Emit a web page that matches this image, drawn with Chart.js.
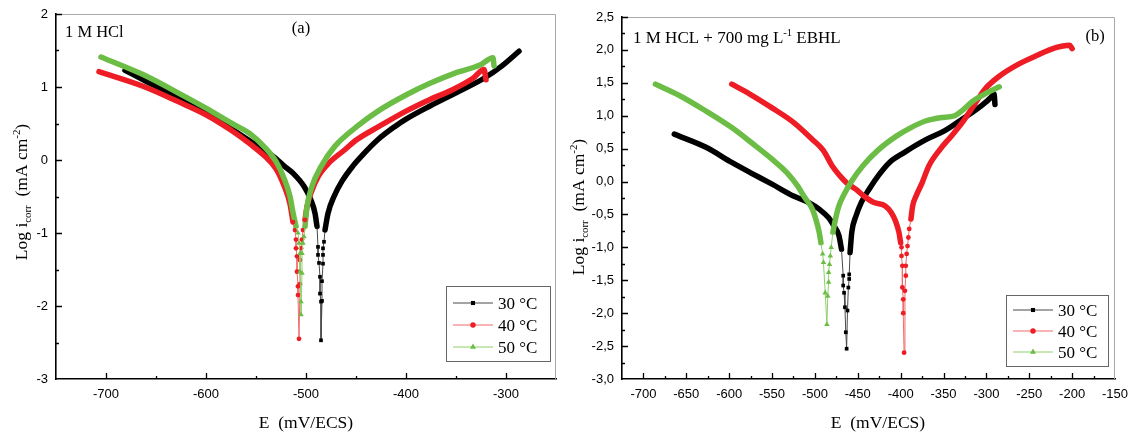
<!DOCTYPE html>
<html><head><meta charset="utf-8">
<script src="https://cdn.jsdelivr.net/npm/chart.js@4.4.1/dist/chart.umd.min.js"></script>
<style>
html,body{margin:0;padding:0;background:#fff;}
#wrap{position:relative;width:1134px;height:434px;overflow:hidden;background:#fff;}
#ca{position:absolute;left:0;top:0;}
#cb{position:absolute;left:560px;top:0;}
</style></head><body>
<div id="wrap"><canvas id="ca" width="560" height="434"></canvas><canvas id="cb" width="574" height="434"></canvas></div>
<script>
// ---------- legend labels ----------
const seriesLabels = ['30 °C', '40 °C', '50 °C'];

// ---------- panel (a): 1 M HCl  [E (mV/ECS), log i] ----------
const a30Cathodic = [[-681,1.23],[-656,1.05],[-627,0.85],[-600,0.65],[-574,0.42],[-556,0.26],[-541,0.13],[-530,0.02],[-522,-0.08],[-513,-0.18],[-502,-0.36],[-495,-0.55],[-491,-0.73],[-489,-0.91]];
const a30Tip = [[-488,-1.19],[-488,-1.30],[-487,-1.41],[-486,-1.60],[-486,-1.83],[-485,-1.94],[-485,-2.47],[-484,-1.93],[-484,-1.66],[-483,-1.42],[-483,-1.30],[-483,-1.21],[-482,-1.12]];
const a30Anodic = [[-481,-0.96],[-478,-0.73],[-472,-0.50],[-464,-0.29],[-453,-0.08],[-444,0.06],[-428,0.28],[-411,0.46],[-400,0.56],[-376,0.74],[-347,0.94],[-322,1.12],[-304,1.29],[-287,1.49]];

const a40Cathodic = [[-707,1.21],[-663,1.01],[-628,0.80],[-600,0.62],[-574,0.40],[-556,0.22],[-541,0.05],[-530,-0.12],[-522,-0.35],[-516,-0.60],[-513,-0.85]];
const a40Tip = [[-511,-0.96],[-510,-1.09],[-510,-1.21],[-509,-1.32],[-509,-1.53],[-508,-1.73],[-508,-1.85],[-507,-2.45],[-506,-1.70],[-506,-1.37],[-505,-1.21],[-504,-1.09],[-503,-0.96]];
const a40Anodic = [[-501,-0.82],[-499,-0.64],[-495,-0.45],[-488,-0.23],[-477,-0.04],[-463,0.12],[-449,0.28],[-427,0.46],[-400,0.67],[-376,0.83],[-354,0.96],[-333,1.12],[-322,1.24],[-320,1.10]];

const a50Cathodic = [[-705,1.41],[-663,1.17],[-628,0.92],[-600,0.71],[-574,0.50],[-556,0.36],[-541,0.17],[-530,-0.02],[-522,-0.25],[-516,-0.50],[-513,-0.72],[-510,-0.91]];
const a50Tip = [[-508,-1.00],[-507,-1.14],[-506,-1.28],[-506,-1.53],[-505,-1.94],[-505,-2.12],[-504,-1.55],[-504,-1.28],[-503,-1.14],[-502,-1.05]];
const a50Anodic = [[-501,-0.91],[-499,-0.64],[-494,-0.36],[-485,-0.09],[-471,0.19],[-449,0.46],[-428,0.67],[-400,0.89],[-376,1.05],[-351,1.19],[-326,1.30],[-313,1.40],[-312,1.29]];

// ---------- panel (b): 1 M HCL + 700 mg/L EBHL ----------
const b30Cathodic = [[-664,0.72],[-627,0.52],[-597,0.29],[-576,0.14],[-550,-0.04],[-525,-0.22],[-507,-0.32],[-495,-0.42],[-484,-0.55],[-478,-0.67],[-472,-0.82],[-469,-1.03]];
const b30Tip = [[-467,-1.43],[-467,-1.58],[-466,-1.69],[-465,-1.91],[-464,-2.29],[-463,-2.54],[-462,-1.96],[-461,-1.61],[-460,-1.48],[-460,-1.41]];
const b30Anodic = [[-459,-1.08],[-457,-0.77],[-452,-0.52],[-446,-0.32],[-437,-0.12],[-426,0.09],[-413,0.29],[-396,0.44],[-370,0.64],[-349,0.77],[-328,0.95],[-306,1.15],[-293,1.30],[-291,1.33],[-290,1.17]];

const b40Cathodic = [[-597,1.48],[-576,1.33],[-550,1.12],[-525,0.90],[-503,0.64],[-490,0.47],[-480,0.24],[-471,0.09],[-463,-0.02],[-452,-0.12],[-443,-0.22],[-431,-0.32],[-418,-0.37],[-411,-0.47],[-406,-0.60],[-402,-0.77],[-400,-0.93]];
const b40Tip = [[-399,-1.00],[-399,-1.13],[-398,-1.28],[-398,-1.61],[-397,-1.79],[-397,-2.00],[-396,-2.60],[-395,-1.66],[-394,-1.43],[-394,-1.28],[-393,-1.10],[-392,-0.98],[-391,-0.85],[-390,-0.72]];
const b40Anodic = [[-388,-0.57],[-386,-0.37],[-382,-0.22],[-375,-0.02],[-367,0.24],[-354,0.49],[-341,0.69],[-328,0.90],[-315,1.15],[-302,1.40],[-285,1.60],[-263,1.78],[-242,1.91],[-220,2.03],[-203,2.07],[-200,2.02]];

const b50Cathodic = [[-686,1.48],[-657,1.30],[-627,1.07],[-597,0.82],[-572,0.57],[-550,0.34],[-533,0.14],[-520,-0.07],[-512,-0.24],[-503,-0.42],[-499,-0.57],[-495,-0.77],[-493,-0.93]];
const b50Tip = [[-491,-1.10],[-490,-1.23],[-488,-1.69],[-486,-2.17],[-485,-1.74],[-484,-1.53],[-484,-1.38],[-483,-1.26],[-482,-1.13],[-481,-1.00]];
const b50Anodic = [[-479,-0.77],[-476,-0.57],[-472,-0.37],[-465,-0.17],[-457,0.01],[-444,0.24],[-427,0.47],[-405,0.69],[-388,0.82],[-371,0.92],[-354,0.97],[-337,1.00],[-329,1.07],[-316,1.22],[-299,1.35],[-285,1.44]];

// ---------- styles ----------
const STY = [
  {color:'#000000', line:'#4a4a4a', style:'rect', r:2.6, order:3},
  {color:'#ee1c24', line:'#f26a6a', style:'circle', r:2.4, order:2},
  {color:'#6cbd45', line:'#8fd06c', style:'triangle', r:3.2, order:1}
];

const toPts = arr => arr.map(([x,y]) => ({x, y}));

function buildDatasets(series) {
  const ds = [];
  series.forEach((s, i) => {
    const st = STY[i];
    [s.cath, s.anod].forEach(branch => {
      ds.push({
        data: toPts(branch), borderColor: st.color, borderWidth: 5.5,
        pointRadius: 0, cubicInterpolationMode: 'monotone', fill: false,
        borderCapStyle: 'round', borderJoinStyle: 'round', order: st.order + 3
      });
    });
    const tipData = [s.cath[s.cath.length-1]].concat(s.tip, [s.anod[0]]);
    ds.push({
      data: toPts(tipData), borderColor: st.line, borderWidth: 1, tension: 0,
      pointStyle: st.style, pointRadius: st.r, pointBackgroundColor: st.color,
      pointBorderColor: st.color, pointBorderWidth: 0, fill: false, order: st.order
    });
  });
  return ds;
}

const isMult = (v, step) => Math.abs(v/step - Math.round(v/step)) < 1e-6;

function drawRich(ctx, parts, x, y, size, align) {
  const fam = '"Liberation Serif", "Times New Roman", serif';
  let total = 0;
  const m = parts.map(p => {
    const fs = p.sub || p.sup ? size*0.62 : size;
    ctx.font = fs + 'px ' + fam;
    const w = ctx.measureText(p.t).width;
    total += w;
    return {p, fs, w};
  });
  let cx = align === 'center' ? x - total/2 : x;
  ctx.textAlign = 'left'; ctx.textBaseline = 'alphabetic';
  m.forEach(({p, fs, w}) => {
    ctx.font = fs + 'px ' + fam;
    const dy = p.sub ? size*0.22 : (p.sup ? -size*0.42 : 0);
    ctx.fillText(p.t, cx, y + dy);
    cx += w;
  });
}

const decor = {
  id: 'decor',
  afterDraw(chart, args, o) {
    const {ctx, chartArea: ca, scales: {x, y}} = chart;
    ctx.save();
    // top/right frame
    ctx.strokeStyle = '#a8a8a8'; ctx.lineWidth = 1;
    ctx.beginPath();
    ctx.moveTo(ca.left, ca.top + 0.5); ctx.lineTo(ca.right - 0.5, ca.top + 0.5); ctx.lineTo(ca.right - 0.5, ca.bottom);
    ctx.stroke();
    // inward ticks
    ctx.strokeStyle = '#000'; ctx.lineWidth = 1.3;
    ctx.beginPath();
    x.ticks.forEach(t => {
      const p = Math.round(x.getPixelForValue(t.value)) + 0.5;
      if (p < ca.left + 2 || p > ca.right - 2) return;
      const L = isMult(t.value, o.xMajor) ? 6 : 3;
      ctx.moveTo(p, ca.bottom); ctx.lineTo(p, ca.bottom - L);
    });
    y.ticks.forEach(t => {
      const p = Math.round(y.getPixelForValue(t.value)) + 0.5;
      if (p > ca.bottom - 2) return;
      const L = isMult(t.value, o.yMajor) ? 6 : 3;
      ctx.moveTo(ca.left, p); ctx.lineTo(ca.left + L, p);
    });
    ctx.stroke();
    ctx.fillStyle = '#000';
    // x title
    drawRich(ctx, [{t: 'E  (mV/ECS)'}], o.xTitleX, o.xTitleY, 17.5, 'center');
    // y title (rotated)
    ctx.save();
    ctx.translate(o.yTitleX, o.yTitleY);
    ctx.rotate(-Math.PI/2);
    drawRich(ctx, [{t: 'Log i'}, {t: 'corr', sub: true}, {t: '  (mA cm'}, {t: '-2', sup: true}, {t: ')'}], 0, 6, 17.5, 'center');
    ctx.restore();
    // notes
    o.notes.forEach(n => drawRich(ctx, n.parts, n.x(ca), n.y(ca), n.size, n.align));
    // legend
    const L = o.legend;
    const bx = ca.right - L.dr, by = ca.bottom - L.db;
    ctx.strokeStyle = '#666'; ctx.lineWidth = 1;
    ctx.strokeRect(Math.round(bx) + 0.5, Math.round(by) + 0.5, L.w, L.h);
    seriesLabels.forEach((lab, i) => {
      const st = STY[i];
      const yy = by + L.row0 + i * L.rowH;
      ctx.strokeStyle = st.line; ctx.lineWidth = 1.2;
      ctx.beginPath(); ctx.moveTo(bx + 7, yy); ctx.lineTo(bx + 47, yy); ctx.stroke();
      ctx.fillStyle = st.color; ctx.strokeStyle = st.color;
      Chart.helpers.drawPoint(ctx, {pointStyle: st.style, radius: st.r + 0.3, rotation: 0, borderWidth: 0}, bx + 27, yy);
      ctx.fillStyle = '#000';
      drawRich(ctx, [{t: lab}], bx + 52, yy + 6, 17, 'left');
    });
    ctx.restore();
  }
};

const tickFont = {family: '"Liberation Sans", Arial, sans-serif', size: 13};

function makeChart(canvasId, cfg) {
  return new Chart(document.getElementById(canvasId), {
    type: 'line',
    data: {datasets: buildDatasets(cfg.series)},
    options: {
      responsive: false, animation: false, events: [],
      layout: {padding: cfg.padding},
      plugins: {legend: {display: false}, tooltip: {enabled: false}, decor: cfg.decor},
      scales: {
        x: {
          type: 'linear', min: cfg.xMin, max: cfg.xMax,
          grid: {display: false, drawTicks: false},
          border: {display: true, color: '#000', width: 1.6},
          ticks: {stepSize: cfg.xStep, autoSkip: false, maxRotation: 0, color: '#000', font: tickFont, padding: 8,
            callback: v => isMult(v, cfg.decor.xMajor) ? String(Math.round(v)) : ''},
          afterFit: s => { s.height = 55; s.paddingLeft = 0; s.paddingRight = 0; }
        },
        y: {
          type: 'linear', min: cfg.yMin, max: cfg.yMax,
          grid: {display: false, drawTicks: false},
          border: {display: true, color: '#000', width: 1.6},
          ticks: {stepSize: cfg.yStep, autoSkip: false, color: '#000', font: tickFont, padding: 8,
            callback: cfg.yFmt},
          afterFit: s => { s.width = cfg.yWidth; s.paddingTop = 0; s.paddingBottom = 0; }
        }
      }
    },
    plugins: [decor]
  });
}

makeChart('ca', {
  series: [
    {cath: a30Cathodic, tip: a30Tip, anod: a30Anodic},
    {cath: a40Cathodic, tip: a40Tip, anod: a40Anodic},
    {cath: a50Cathodic, tip: a50Tip, anod: a50Anodic}
  ],
  xMin: -750, xMax: -250, xStep: 50, yMin: -3, yMax: 2, yStep: 0.5,
  yFmt: v => isMult(v, 1) ? String(Math.round(v)) : '',
  yWidth: 56, padding: {left: 0, right: 4, top: 14, bottom: 0},
  decor: {
    xMajor: 100, yMajor: 1,
    xTitleX: 306, xTitleY: 428, yTitleX: 21, yTitleY: 192,
    notes: [
      {parts: [{t: '1 M HCl'}], x: ca => ca.left + 9, y: ca => ca.top + 23, size: 16.5, align: 'left'},
      {parts: [{t: '(a)'}], x: ca => ca.left + 245, y: ca => ca.top + 19, size: 16.5, align: 'center'}
    ],
    legend: {dr: 110, db: 93, w: 104, h: 75, row0: 17, rowH: 22}
  }
});

makeChart('cb', {
  series: [
    {cath: b30Cathodic, tip: b30Tip, anod: b30Anodic},
    {cath: b40Cathodic, tip: b40Tip, anod: b40Anodic},
    {cath: b50Cathodic, tip: b50Tip, anod: b50Anodic}
  ],
  xMin: -725, xMax: -150, xStep: 25, yMin: -3, yMax: 2.5, yStep: 0.25,
  yFmt: v => isMult(v, 0.5) ? (Math.abs(v) < 1e-9 ? 0 : v).toFixed(1).replace('.', ',') : '',
  yWidth: 62, padding: {left: 0, right: 19, top: 17, bottom: 0},
  decor: {
    xMajor: 50, yMajor: 0.5,
    xTitleX: 318, xTitleY: 428, yTitleX: 18, yTitleY: 207,
    notes: [
      {parts: [{t: '1 M HCL + 700 mg L'}, {t: '-1', sup: true}, {t: ' EBHL'}], x: ca => ca.left + 11, y: ca => ca.top + 26, size: 17, align: 'left'},
      {parts: [{t: '(b)'}], x: ca => ca.right - 20, y: ca => ca.top + 24, size: 16.5, align: 'center'}
    ],
    legend: {dr: 109, db: 84, w: 102, h: 71, row0: 15, rowH: 21}
  }
});
</script>
</body></html>
